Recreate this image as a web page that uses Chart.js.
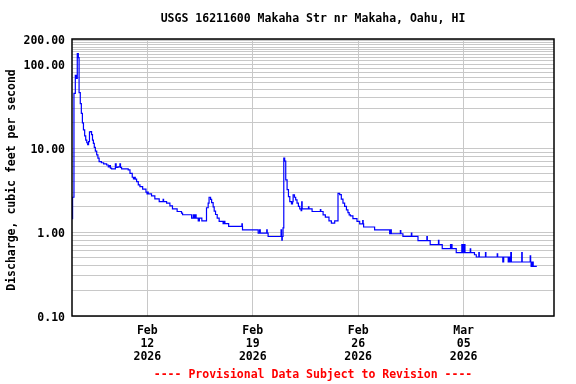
<!DOCTYPE html>
<html>
<head>
<meta charset="utf-8">
<script src="https://cdn.jsdelivr.net/npm/chart.js@4.4.1/dist/chart.umd.min.js"></script>
<style>
  html, body { margin: 0; padding: 0; background: #fff; }
  #wrap { width: 576px; height: 384px; }
</style>
</head>
<body>
<div id="wrap"><canvas id="chart" width="576" height="384"></canvas></div>
<script>
// days since Feb 7 2026 00:00, discharge in cfs (step data, each point starts a level)
var days = [
  0.00, 0.04, 0.13, 0.22, 0.28, 0.35, 0.42, 0.47, 0.55, 0.62, 0.69, 0.76, 0.84, 0.91, 0.98,
  1.04, 1.10, 1.16, 1.24, 1.30, 1.36, 1.42, 1.48, 1.55, 1.64, 1.72, 1.80, 1.95, 2.10, 2.30,
  2.41, 2.50, 2.55, 2.63, 2.88, 2.93, 3.05, 3.18, 3.22, 3.29, 3.73, 3.85, 4.00, 4.08, 4.15,
  4.20, 4.29, 4.40, 4.51, 4.69, 4.91, 4.98, 5.02, 5.06, 5.28, 5.50, 5.79, 6.05, 6.08, 6.28,
  6.50, 6.67, 6.98, 7.27, 7.34, 7.94, 8.05, 8.12, 8.18, 8.24, 8.38, 8.46, 8.62, 8.93, 9.04,
  9.10, 9.20, 9.27, 9.37, 9.44, 9.53, 9.64, 9.77, 10.03, 10.10, 10.15, 10.40, 11.28, 11.31, 11.32,
  12.36, 12.45, 12.50, 12.93, 12.96, 13.02, 13.88, 13.91, 13.93, 13.96, 14.01, 14.06, 14.12, 14.19, 14.28,
  14.37, 14.46, 14.57, 14.64, 14.68, 14.77, 14.85, 14.94, 15.03, 15.12, 15.21, 15.25, 15.28, 15.70, 15.73,
  15.94, 16.49, 16.52, 16.67, 16.82, 17.06, 17.22, 17.44, 17.66, 17.77, 17.88, 17.99, 18.10, 18.22, 18.32,
  18.40, 18.48, 18.65, 18.92, 19.10, 19.30, 19.33, 19.36, 20.09, 21.09, 21.15, 21.20, 21.30, 21.80, 21.83,
  21.97, 22.53, 22.56, 22.97, 23.56, 23.59, 23.78, 24.33, 24.36, 24.58, 25.13, 25.16, 25.20, 25.23, 25.51,
  25.88, 25.92, 25.97, 26.02, 26.06, 26.09, 26.44, 26.47, 26.72, 26.84, 27.01, 27.04, 27.45, 27.48, 28.23,
  28.26, 28.60, 28.66, 28.96, 29.02, 29.08, 29.13, 29.17, 29.27, 29.86, 29.89, 30.42, 30.45, 30.48, 30.55,
  30.62, 30.70, 30.86
];
var discharge = [
  1.45, 2.6, 45, 74, 68, 134, 120, 46, 34, 26, 20, 16.5, 14, 12.5, 11.6,
  11.0, 12.0, 15.6, 15.8, 14.5, 12.5, 11.4, 10.2, 9.2, 8.3, 7.6, 6.9, 6.7, 6.5, 6.3,
  6.0, 6.2, 5.8, 5.66, 6.5, 5.9, 6.0, 6.5, 5.9, 5.66, 5.5, 5.0, 4.5, 4.3, 4.5,
  4.27, 4.0, 3.65, 3.48, 3.25, 3.0, 2.85, 3.0, 2.85, 2.7, 2.49, 2.31, 2.45, 2.31, 2.21,
  2.05, 1.89, 1.76, 1.68, 1.61, 1.47, 1.6, 1.47, 1.6, 1.47, 1.36, 1.47, 1.36, 1.95, 2.21,
  2.6, 2.45, 2.25, 2.0, 1.78, 1.62, 1.47, 1.34, 1.26, 1.34, 1.26, 1.17, 1.25, 1.17, 1.065,
  0.97, 1.065, 0.97, 1.065, 0.97, 0.886, 1.065, 0.886, 0.80, 0.886, 1.12, 7.6, 7.0, 4.2, 3.2,
  2.65, 2.31, 2.17, 2.3, 2.78, 2.6, 2.42, 2.21, 2.02, 1.89, 1.8, 2.3, 1.89, 2.0, 1.89,
  1.76, 1.85, 1.76, 1.6, 1.51, 1.36, 1.28, 1.36, 2.9, 2.8, 2.47, 2.21, 2.02, 1.84, 1.71,
  1.6, 1.56, 1.45, 1.34, 1.255, 1.37, 1.255, 1.15, 1.065, 0.955, 1.065, 0.955, 0.955, 1.045, 0.955,
  0.89, 0.97, 0.89, 0.79, 0.886, 0.79, 0.71, 0.795, 0.71, 0.634, 0.71, 0.634, 0.71, 0.634, 0.57,
  0.71, 0.57, 0.71, 0.57, 0.71, 0.57, 0.63, 0.57, 0.537, 0.505, 0.57, 0.505, 0.57, 0.505, 0.55,
  0.505, 0.44, 0.505, 0.44, 0.505, 0.44, 0.57, 0.44, 0.44, 0.57, 0.44, 0.52, 0.44, 0.39, 0.44,
  0.39, 0.39, 0.39
];

var xTickDays = [5, 12, 19, 26];
var xTickMonths = ['Feb', 'Feb', 'Feb', 'Mar'];
var xTickDates = ['12', '19', '26', '05'];
var xTickYears = ['2026', '2026', '2026', '2026'];
var yLabelValues = [0.1, 1, 10, 100, 200];

var titleText = 'USGS 16211600 Makaha Str nr Makaha, Oahu, HI';
var yTitleText = 'Discharge, cubic feet per second';
var footerText = '---- Provisional Data Subject to Revision ----';

var monoFont = "'DejaVu Sans Mono', 'Liberation Mono', monospace";

// gridline values: 1..9 per decade, 110..190 in the top decade
var yGridValues = [];
[0.1, 1, 10].forEach(function(d) {
  for (var k = 1; k <= 9; k++) yGridValues.push(+(k * d).toFixed(4));
});
for (var v = 100; v <= 200; v += 10) yGridValues.push(v);

var points = [];
for (var i = 0; i < days.length; i++) {
  points.push({ x: days[i], y: discharge[i] });
}

var decorPlugin = {
  id: 'decor',
  afterDraw: function(chart) {
    var ctx = chart.ctx;
    var a = chart.chartArea;
    ctx.save();
    ctx.strokeStyle = '#000';
    ctx.lineWidth = 1.5;
    ctx.strokeRect(a.left, a.top, a.right - a.left, a.bottom - a.top);

    ctx.font = 'bold 11.5px ' + monoFont;
    ctx.textAlign = 'center';
    ctx.textBaseline = 'middle';
    ctx.fillStyle = '#000';
    ctx.fillText(titleText, (a.left + a.right) / 2, 19);

    ctx.fillStyle = '#ff0000';
    ctx.fillText(footerText, (a.left + a.right) / 2, 375);

    ctx.fillStyle = '#000';
    ctx.translate(12, 180);
    ctx.rotate(-Math.PI / 2);
    ctx.fillText(yTitleText, 0, 0);
    ctx.restore();
  }
};

new Chart(document.getElementById('chart'), {
  type: 'line',
  data: {
    datasets: [{
      data: points,
      borderColor: '#0000ff',
      borderWidth: 1.2,
      pointRadius: 0,
      stepped: 'before',
      fill: false
    }]
  },
  options: {
    responsive: false,
    animation: false,
    layout: { padding: { top: 39, right: 22, left: 0, bottom: 0 } },
    plugins: {
      legend: { display: false },
      tooltip: { enabled: false }
    },
    scales: {
      x: {
        type: 'linear',
        min: 0,
        max: 32,
        afterBuildTicks: function(scale) {
          scale.ticks = xTickDays.map(function(d) { return { value: d }; });
        },
        afterFit: function(scale) { scale.height = 68; },
        grid: { color: '#c8c8c8', lineWidth: 1, drawTicks: false },
        border: { display: false },
        ticks: {
          autoSkip: false,
          maxRotation: 0,
          padding: 9,
          color: '#000',
          font: { family: monoFont, size: 11.5, weight: 'bold', lineHeight: 1.13 },
          callback: function(value) {
            var idx = xTickDays.indexOf(value);
            if (idx < 0) return '';
            return [xTickMonths[idx], xTickDates[idx], xTickYears[idx]];
          }
        }
      },
      y: {
        type: 'logarithmic',
        min: 0.1,
        max: 200,
        afterBuildTicks: function(scale) {
          scale.ticks = yGridValues.map(function(v) { return { value: v }; });
        },
        afterFit: function(scale) { scale.width = 72; },
        grid: { color: '#c8c8c8', lineWidth: 1, drawTicks: false },
        border: { display: false },
        ticks: {
          autoSkip: false,
          padding: 7,
          labelOffset: 2,
          color: '#000',
          font: { family: monoFont, size: 11.5, weight: 'bold' },
          callback: function(value) {
            for (var j = 0; j < yLabelValues.length; j++) {
              if (Math.abs(value - yLabelValues[j]) < 1e-6) return value.toFixed(2);
            }
            return '';
          }
        }
      }
    }
  },
  plugins: [decorPlugin]
});
</script>
</body>
</html>
